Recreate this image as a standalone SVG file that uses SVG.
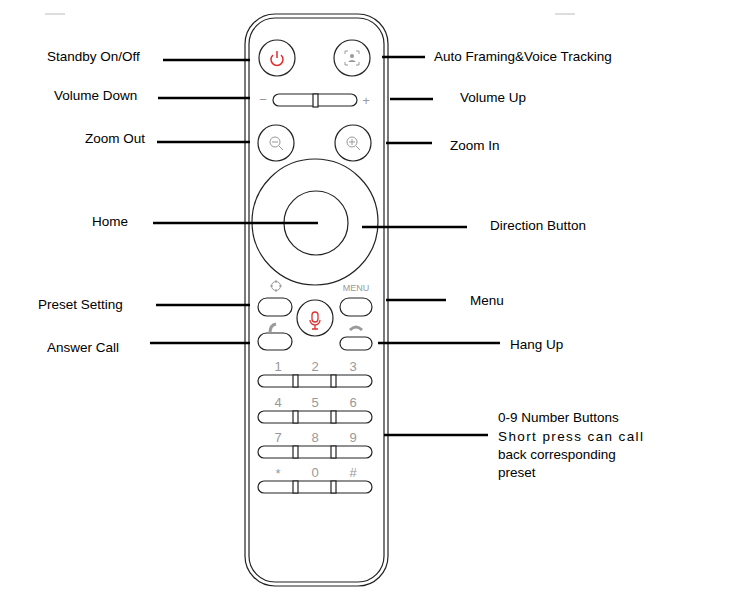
<svg xmlns="http://www.w3.org/2000/svg" width="747" height="599" viewBox="0 0 747 599">
<style>
text{font-family:"Liberation Sans",Arial,sans-serif;font-size:13.5px;fill:#000}
.k{font-size:13px;fill:#999;text-anchor:middle}
.o{fill:none;stroke:#222;stroke-width:1.2}
.b{fill:#fff;stroke:#222;stroke-width:1.2}
.c line{stroke:#000;stroke-width:2.6}
</style>
<rect width="747" height="599" fill="#fff"/>
<path d="M45 14H65M555 14H575" stroke="#bbb" stroke-width="1"/>
<g id="remote">
<rect class="o" x="245" y="14" width="143" height="572" rx="30"/>
<rect class="o" x="249" y="18" width="135" height="564" rx="26"/>
</g>
<g id="power"><circle class="b" cx="277" cy="58" r="18"/>
<path d="M273 55a6 6 0 1 0 8 0M277 51v7" fill="none" stroke="#e03030" stroke-width="1.5"/></g>
<g id="autoframe"><circle class="b" cx="352" cy="58" r="18"/>
<path d="M345 54v-3h3M356 51h3v3M359 62v3h-3M348 65h-3v-3" fill="none" stroke="#999"/>
<circle cx="352" cy="56" r="2" fill="#999"/><path d="M348 62q4-4 8 0z" fill="#999"/></g>
<g id="volume"><rect class="b" x="273" y="94" width="84" height="12" rx="6"/>
<rect class="b" x="313" y="94" width="5" height="13"/>
<text class="k" x="263" y="104">−</text><text class="k" x="366" y="105">+</text></g>
<g id="zoomout"><circle class="b" cx="276" cy="143" r="18"/>
<circle cx="275" cy="142" r="5" fill="none" stroke="#999"/><path d="M272 142h6M279 146l4 4" stroke="#999"/></g>
<g id="zoomin"><circle class="b" cx="353" cy="143" r="18"/>
<circle cx="352" cy="142" r="5" fill="none" stroke="#999"/><path d="M349 142h6M352 139v6M356 146l4 4" stroke="#999"/></g>
<g id="direction"><circle class="b" cx="315" cy="222" r="63"/><circle class="b" cx="316" cy="223" r="32"/></g>
<g id="preset"><rect class="b" x="258" y="298" width="34" height="18" rx="9"/>
<circle cx="276" cy="286" r="4.5" fill="none" stroke="#999"/><path d="M276 280v3M276 289v3M270 286h3M279 286h3" stroke="#999"/></g>
<g id="menu"><rect class="b" x="340" y="298" width="32" height="18" rx="9"/>
<text class="k" x="356" y="291" style="font-size:9px">MENU</text></g>
<g id="mic"><circle class="b" cx="315" cy="318" r="18"/>
<rect x="312" y="312" width="6" height="10" rx="3" fill="none" stroke="#e03030" stroke-width="1.3"/>
<path d="M310 320a5 5 0 0 0 10 0M315 325v4M312 329h6" fill="none" stroke="#e03030" stroke-width="1.3"/></g>
<g id="answer"><rect class="b" x="258" y="333" width="34" height="17" rx="8.5"/>
<path d="M270 333q0-8 6-9" stroke="#999" stroke-width="3" fill="none"/></g>
<g id="hangup"><rect class="b" x="340" y="337" width="32" height="13" rx="6.5"/>
<path d="M350 330q6-6 12 0" stroke="#999" stroke-width="3" fill="none"/></g>
<g id="numbers">
<text class="k" x="278" y="371">1</text><text class="k" x="315" y="371">2</text><text class="k" x="353" y="371">3</text>
<rect class="b" x="258" y="375" width="114" height="12" rx="6"/><rect class="b" x="293" y="375" width="5" height="12"/><rect class="b" x="331" y="375" width="5" height="12"/>
<text class="k" x="278" y="407">4</text><text class="k" x="315" y="407">5</text><text class="k" x="353" y="407">6</text>
<rect class="b" x="258" y="411" width="114" height="12" rx="6"/><rect class="b" x="293" y="411" width="5" height="12"/><rect class="b" x="331" y="411" width="5" height="12"/>
<text class="k" x="278" y="442">7</text><text class="k" x="315" y="442">8</text><text class="k" x="353" y="442">9</text>
<rect class="b" x="258" y="446" width="114" height="12" rx="6"/><rect class="b" x="293" y="446" width="5" height="12"/><rect class="b" x="331" y="446" width="5" height="12"/>
<text class="k" x="278" y="478">*</text><text class="k" x="315" y="477">0</text><text class="k" x="353" y="477">#</text>
<rect class="b" x="258" y="481" width="114" height="12" rx="6"/><rect class="b" x="293" y="481" width="5" height="12"/><rect class="b" x="331" y="481" width="5" height="12"/>
</g>
<g id="connectors" class="c">
<line x1="163" y1="60" x2="250" y2="60"/>
<line x1="382" y1="57" x2="425" y2="57"/>
<line x1="158" y1="98" x2="250" y2="98"/>
<line x1="390" y1="99" x2="433" y2="99"/>
<line x1="157" y1="142" x2="250" y2="142"/>
<line x1="386" y1="143" x2="432" y2="143"/>
<line x1="153" y1="223" x2="318" y2="223"/>
<line x1="362" y1="227" x2="467" y2="227"/>
<line x1="156" y1="305" x2="250" y2="305"/>
<line x1="386" y1="300" x2="446" y2="300"/>
<line x1="150" y1="343" x2="250" y2="343"/>
<line x1="378" y1="343" x2="500" y2="343"/>
<line x1="384" y1="435" x2="488" y2="435"/>
</g>
<g id="labels">
<text x="47" y="61">Standby On/Off</text>
<text x="434" y="61">Auto Framing&amp;Voice Tracking</text>
<text x="54" y="100">Volume Down</text>
<text x="460" y="102">Volume Up</text>
<text x="85" y="143">Zoom Out</text>
<text x="450" y="150">Zoom In</text>
<text x="92" y="226">Home</text>
<text x="490" y="230">Direction Button</text>
<text x="38" y="309">Preset Setting</text>
<text x="470" y="305">Menu</text>
<text x="47" y="352">Answer Call</text>
<text x="510" y="349">Hang Up</text>
<text x="498" y="422">0-9 Number Buttons</text>
<text x="498" y="441" textLength="145" lengthAdjust="spacing">Short press can call</text>
<text x="498" y="459">back corresponding</text>
<text x="498" y="477">preset</text>
</g>
</svg>
